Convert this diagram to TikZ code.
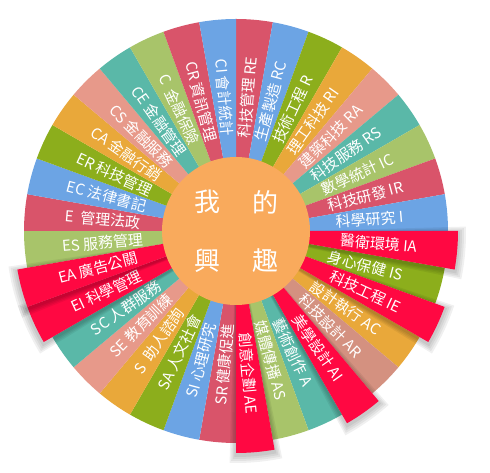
\documentclass[tikz,border=0pt]{standalone}
\usepackage{fontspec}
\newfontfamily\cjk{Noto Sans CJK TC}
\usepackage{xcolor}
\definecolor{ipink}{RGB}{217,84,106}
\definecolor{iblue}{RGB}{108,164,228}
\definecolor{igreen}{RGB}{140,174,28}
\definecolor{iorange}{RGB}{233,168,58}
\definecolor{isalmon}{RGB}{231,153,138}
\definecolor{ibrown}{RGB}{212,145,128}
\definecolor{iteal}{RGB}{90,184,168}
\definecolor{ilime}{RGB}{168,196,106}
\definecolor{ired}{RGB}{255,8,66}
\definecolor{icore}{RGB}{249,170,92}
\usetikzlibrary{calc}

\begin{document}
\begin{tikzpicture}[x=1pt, y=1pt,
  seclabel/.style={font=\cjk\fontsize{15}{15}\selectfont, text=white, inner sep=0pt},
  corechar/.style={font=\cjk\fontsize{26}{26}\selectfont, text=white, inner sep=0pt}]
  \useasboundingbox (0,0) rectangle (490,473);
  \coordinate (O) at (236,242);

  % Wheel -- regular sectors
  \foreach \a/\c/\t in {85/ipink/科技管理 RE, 75/iblue/生產製造 RC, 65/igreen/技術工程 R,
      55/iorange/理工科技 RI, 45/isalmon/建築科技 RA, 35/iteal/科技服務 RS,
      25/ilime/數學統計 IC, 15/ipink/科技研發 IR, 5/iblue/科學研究 I,
      -15/igreen/身心保健 IS, -35/iorange/設計執行 AC, -45/ibrown/科技設計 AR,
      -65/iteal/藝術創作 A, -75/ilime/媒體傳播 AS,
      -95/ipink/SR 健康促進, -105/iblue/SI 心理研究, -115/igreen/SA 人文社會,
      -125/iorange/S~~助人諮詢, -135/isalmon/SE 教育訓練, -145/iteal/SC 人群服務,
      -175/ilime/ES 服務管理, 175/ipink/E~~管理法政, 165/iblue/EC 法律書記,
      155/igreen/ER 科技管理, 145/iorange/CA 金融行銷, 135/isalmon/CS 金融服務,
      125/iteal/CE 金融管理, 115/ilime/C~~金融保險, 105/ipink/CR 資訊管理,
      95/iblue/CI 會計統計}
  {
    \pgfmathsetmacro\rot{cos(\a) < 0 ? \a+180 : \a}
    \fill[\c] (O) -- ++({\a-5}:212) arc[start angle={\a-5}, end angle={\a+5}, radius=212pt] -- cycle;
    \node[seclabel, rotate=\rot] (lab\a) at ($(O)+(\a:134)$) {\t};
  }

  % Wheel -- highlighted sectors, pulled out with a soft shadow
  \foreach \a/\t in {-5/醫衛環境 IA, -25/科技工程 IE, -55/美學設計 AI,
      -85/創意企劃 AE, -155/EI 科學管理, -165/EA 廣告公關}
  {
    \pgfmathsetmacro\rot{cos(\a) < 0 ? \a+180 : \a}
    \foreach \k in {1,...,4}
      \fill[black, opacity=0.06] ([yshift=-2pt]O) -- ++({\a-5-0.4*\k}:{222+2*\k})
        arc[start angle={\a-5-0.4*\k}, end angle={\a+5+0.4*\k}, radius={(222+2*\k)*1pt}] -- cycle;
    \fill[ired] (O) -- ++({\a-5}:222) arc[start angle={\a-5}, end angle={\a+5}, radius=222pt] -- cycle;
    \node[seclabel, rotate=\rot] (hot\a) at ($(O)+(\a:143)$) {\t};
  }

  % Centre disc
  \node[circle, fill=icore, minimum size=148pt, inner sep=0pt] (core) at (O) {};
  \node[corechar] (wo)  at ($(core)+(-29,29)$)  {我};
  \node[corechar] (de)  at ($(core)+(29,29)$)   {的};
  \node[corechar] (xing) at ($(core)+(-29,-30)$) {興};
  \node[corechar] (qu)  at ($(core)+(29,-30)$)  {趣};
\end{tikzpicture}
\end{document}
